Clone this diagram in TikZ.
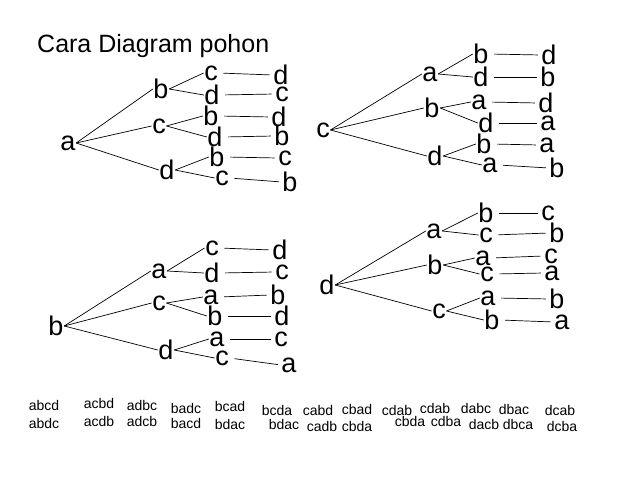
\documentclass[tikz,border=0pt]{standalone}
\usepackage{fontspec}
\setmainfont{Liberation Sans}
\begin{document}
\begin{tikzpicture}[x=1pt,y=-1pt,
  l/.style={font=\fontsize{27}{27}\selectfont,inner sep=0.5pt},
  w/.style={font=\fontsize{14}{14}\selectfont,inner sep=0pt},
  e/.style={line width=0.7pt},
  f/.style={line width=0.7pt,shorten <=5pt,shorten >=3pt}]
\useasboundingbox (0,0) rectangle (638,479);
\node[font=\fontsize{25}{25}\selectfont,anchor=west,inner sep=0pt] (title) at (37,46) {Cara Diagram pohon};
% Tree 1
\node[l] (A) at (68,143) {a};
\node[l] (A1) at (161,89) {b}; \node[l] (A2) at (159,126) {c}; \node[l] (A3) at (167,170) {d};
\node[l] (A11) at (211,73) {c}; \node[l] (A12) at (212,95) {d};
\node[l] (A21) at (211,116) {b}; \node[l] (A22) at (215,137) {d};
\node[l] (A31) at (217,157) {b}; \node[l] (A32) at (222,178) {c};
\node[l] (A111) at (281,75) {d}; \node[l] (A121) at (282,94) {c};
\node[l] (A211) at (279,117) {d}; \node[l] (A221) at (282,136) {b};
\node[l] (A311) at (285,158) {c}; \node[l] (A321) at (290,182) {b};
% Tree 2
\node[l] (B) at (323,130) {c};
\node[l] (B1) at (430,74) {a}; \node[l] (B2) at (432,108) {b}; \node[l] (B3) at (435,156) {d};
\node[l] (B11) at (481,54) {b}; \node[l] (B12) at (481,77) {d};
\node[l] (B21) at (479,102) {a}; \node[l] (B22) at (486,123) {d};
\node[l] (B31) at (484,144) {b}; \node[l] (B32) at (490,165) {a};
\node[l] (B111) at (549,55) {d}; \node[l] (B121) at (548,77) {b};
\node[l] (B211) at (546,103) {d}; \node[l] (B221) at (548,123) {a};
\node[l] (B311) at (547,145) {a}; \node[l] (B321) at (557,168) {b};
% Tree 3
\node[l] (C) at (56,326) {b};
\node[l] (C1) at (159,271) {a}; \node[l] (C2) at (159,303) {c}; \node[l] (C3) at (166,350) {d};
\node[l] (C11) at (212,248) {c}; \node[l] (C12) at (212,273) {d};
\node[l] (C21) at (211,297) {a}; \node[l] (C22) at (215,316) {b};
\node[l] (C31) at (217,339) {a}; \node[l] (C32) at (222,358) {c};
\node[l] (C111) at (280,250) {d}; \node[l] (C121) at (282,272) {c};
\node[l] (C211) at (278,295) {b}; \node[l] (C221) at (282,316) {d};
\node[l] (C311) at (281,339) {c}; \node[l] (C321) at (289,365) {a};
% Tree 4
\node[l] (D) at (327,285) {d};
\node[l] (D1) at (434,231) {a}; \node[l] (D2) at (435,265) {b}; \node[l] (D3) at (439,311) {c};
\node[l] (D11) at (486,213) {b}; \node[l] (D12) at (486,235) {c};
\node[l] (D21) at (483,258) {a}; \node[l] (D22) at (487,274) {c};
\node[l] (D31) at (488,298) {a}; \node[l] (D32) at (492,320) {b};
\node[l] (D111) at (548,213) {c}; \node[l] (D121) at (557,233) {b};
\node[l] (D211) at (551,256) {c}; \node[l] (D221) at (552,273) {a};
\node[l] (D311) at (557,299) {b}; \node[l] (D321) at (562,322) {a};
\foreach \t in {A,B,C,D}{
  \foreach \i in {1,2,3}{
    \draw[e] (\t.east) -- (\t\i.west);
    \foreach \j in {1,2}{
      \draw[e] (\t\i.east) -- (\t\i\j.west);
      \draw[f] (\t\i\j.east) -- (\t\i\j1.west);
    }
  }
}
% permutations
\foreach \x/\y/\s [count=\k] in {
 44/405/abcd, 99/403/acbd, 142/405/adbc, 186/408/badc, 230/406/bcad, 277/410/bcda, 318/410/cabd, 357/409/cbad, 397/410/cdab, 435/408/cdab, 476/408/dabc, 514/409/dbac, 560/410/dcab,
 44/423/abdc, 99/421/acdb, 142/421/adcb, 186/423/bacd, 230/424/bdac, 284/424/bdac, 322/426/cadb, 357/426/cbda, 410/421/cbda, 446/421/cdba, 484/424/dacb, 518/424/dbca, 562/426/dcba}
  \node[w] (p\k) at (\x,\y) {\s};
\end{tikzpicture}
\end{document}
